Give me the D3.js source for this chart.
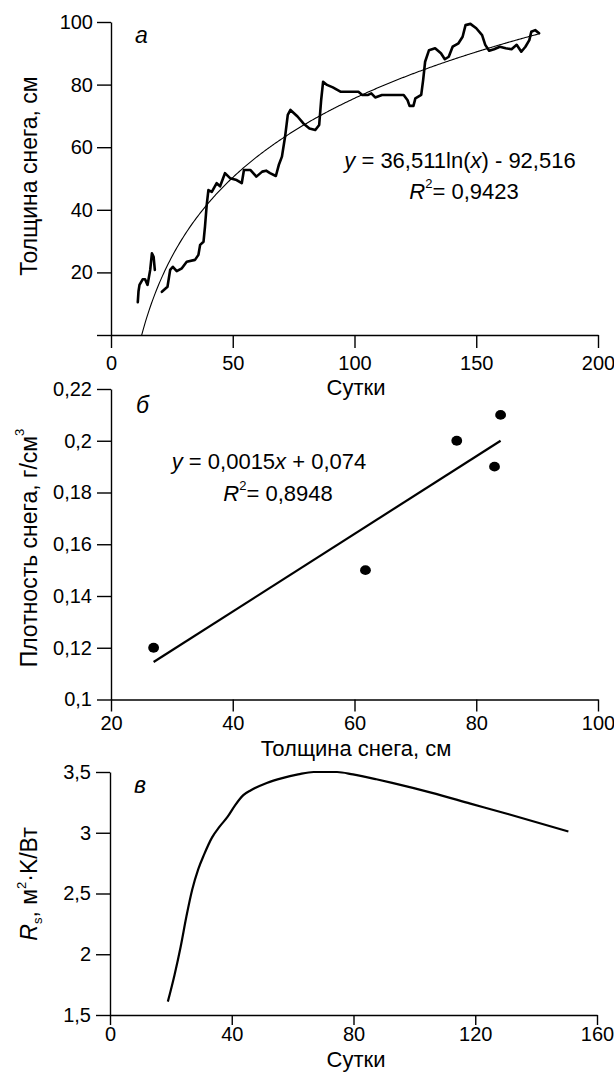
<!DOCTYPE html>
<html><head><meta charset="utf-8">
<script src="https://cdn.jsdelivr.net/npm/d3@7"></script>
<style>
body{margin:0;background:#fff}
svg{display:block}
text{font-family:"Liberation Sans",Arial,sans-serif;fill:#000}
</style>
</head><body>
<svg id="chart" width="614" height="1073"></svg>
<script>
// ---------- Panel а: snow depth vs days ----------
const seg1Days  = [11.0, 11.3, 11.7, 13.0, 14.0, 15.0, 16.1, 16.8, 17.5, 18.0];
const seg1Depth = [10.5, 14.0, 16.0, 17.8, 17.8, 16.0, 20.8, 26.1, 25.0, 20.8];
const seg2Days  = [20.9, 23.2, 24.3, 25.4, 27.0, 29.1, 31.1, 34.5, 35.9, 36.6, 38.0, 38.6, 39.3, 40.0, 41.4, 43.4, 44.8, 46.8, 48.9, 51.6, 53.7, 54.6, 57.3, 59.7, 62.1, 63.7, 65.3, 67.7, 68.9, 70.2, 71.5, 72.6, 73.7, 76.6, 79.0, 81.5, 83.9, 85.5, 86.3, 87.1, 88.7, 91.1, 94.4, 99.2, 101.6, 103.2, 105.6, 106.9, 108.5, 111.3, 120.2, 121.8, 122.6, 124.2, 125.0, 127.4, 128.2, 129.0, 130.6, 133.1, 135.5, 137.1, 138.7, 140.3, 142.7, 144.4, 145.6, 147.6, 150.0, 152.4, 153.7, 155.3, 157.3, 159.7, 162.1, 164.5, 166.6, 168.5, 170.2, 171.8, 172.6, 174.2, 175.8];
const seg2Depth = [13.8, 15.4, 20.8, 21.8, 20.4, 21.3, 23.4, 24.0, 25.6, 28.8, 29.8, 34.6, 41.5, 46.3, 45.7, 48.5, 47.5, 51.7, 50.1, 49.5, 48.5, 52.7, 52.7, 50.6, 52.2, 52.5, 51.7, 50.8, 54.3, 57.0, 63.4, 70.3, 71.9, 69.8, 67.6, 66.0, 65.5, 67.1, 75.0, 80.9, 79.9, 79.1, 77.7, 77.7, 77.7, 76.7, 76.7, 77.2, 75.9, 76.7, 76.7, 75.0, 73.2, 73.2, 75.6, 76.7, 81.5, 87.3, 91.0, 91.6, 90.0, 88.1, 88.9, 92.1, 93.2, 95.3, 99.0, 99.4, 98.0, 95.8, 92.7, 90.8, 91.3, 92.1, 91.6, 91.3, 92.7, 90.5, 92.1, 94.2, 96.9, 97.4, 96.4];
const fitA = [36.511, -92.516];        // y = a ln(x) + b
const fitARange = [12.6, 176];
const ticksAx = [0, 50, 100, 150, 200];
const ticksAy = [0, 20, 40, 60, 80, 100];
const labelsAx = ["0", "50", "100", "150", "200"];
const labelsAy = ["", "20", "40", "60", "80", "100"];

// ---------- Panel б: density vs depth ----------
const depthB   = [27, 61.8, 76.8, 83.0, 84.0];
const densityB = [0.12, 0.15, 0.20, 0.19, 0.21];
const fitB = [0.0015, 0.074];          // y = a x + b
const fitBRange = [27, 84];
const ticksBx = [20, 40, 60, 80, 100];
const ticksBy = [0.1, 0.12, 0.14, 0.16, 0.18, 0.2, 0.22];
const labelsBx = ["20", "40", "60", "80", "100"];
const labelsBy = ["0,1", "0,12", "0,14", "0,16", "0,18", "0,2", "0,22"];

// ---------- Panel в: thermal resistance vs days ----------
const daysC = [19.0, 21.2, 23.2, 25.1, 27.0, 29.0, 30.9, 33.5, 36.0, 38.6, 41.2, 43.8, 46.3, 51.5, 56.6, 61.8, 66.9, 74.6, 79.8, 87.5, 92.7, 105.5, 118.4, 131.3, 150.6];
const rsC   = [1.61, 1.83, 2.06, 2.31, 2.53, 2.70, 2.82, 2.96, 3.05, 3.13, 3.23, 3.31, 3.35, 3.41, 3.45, 3.48, 3.50, 3.50, 3.48, 3.44, 3.41, 3.33, 3.24, 3.15, 3.01];
const ticksCx = [0, 40, 80, 120, 160];
const ticksCy = [1.5, 2, 2.5, 3, 3.5];
const labelsCx = ["0", "40", "80", "120", "160"];
const labelsCy = ["1,5", "2", "2,5", "3", "3,5"];

const svg = d3.select("#chart");
const TICK_FS = 20, TITLE_FS = 23, XTITLE_FS = 22, EQ_FS = 22, SUP_FS = 13;

function drawAxes(x, y, tx, ty, lx, ly, opt) {
  const g = svg.append("g");
  const xa = d3.axisBottom(x).tickValues(tx).tickFormat((d, i) => lx[i])
    .tickSize(opt.xTick).tickSizeOuter(0).tickPadding(opt.xPad);
  const ya = d3.axisLeft(y).tickValues(ty).tickFormat((d, i) => ly[i])
    .tickSize(opt.yTick).tickSizeOuter(0).tickPadding(opt.yPad);
  const gx = g.append("g").attr("transform", `translate(0,${y.range()[0]})`).call(xa);
  const gy = g.append("g").attr("transform", `translate(${x.range()[0]},0)`).call(ya);
  [gx, gy].forEach(a => {
    a.selectAll("path,line").attr("stroke", "#000").attr("stroke-width", 1.4);
    a.selectAll("text").attr("font-size", TICK_FS).attr("font-family", '"Liberation Sans",Arial,sans-serif').attr("fill", "#000");
  });
  return g;
}

function r2Text(x, y, value) {
  const t = svg.append("text").attr("x", x).attr("y", y).attr("font-size", EQ_FS).attr("text-anchor", "middle");
  t.append("tspan").attr("font-style", "italic").text("R");
  t.append("tspan").attr("font-size", SUP_FS).attr("dy", -11).text("2");
  t.append("tspan").attr("dy", 11).text("= " + value);
}

// ===== Panel а =====
const xA = d3.scaleLinear().domain([0, 200]).range([111, 598]);
const yA = d3.scaleLinear().domain([0, 100]).range([335, 22]);
drawAxes(xA, yA, ticksAx, ticksAy, labelsAx, labelsAy, {xTick: 13, xPad: 8, yTick: 14, yPad: 4});
const lineA = d3.line().x(d => xA(d[0])).y(d => yA(d[1]));
[[seg1Days, seg1Depth], [seg2Days, seg2Depth]].forEach(([dx, dy]) => {
  svg.append("path").datum(dx.map((v, i) => [v, dy[i]]))
    .attr("d", lineA).attr("fill", "none").attr("stroke", "#000")
    .attr("stroke-width", 2.6).attr("stroke-linejoin", "round").attr("stroke-linecap", "round");
});
const fitAPts = d3.range(fitARange[0], fitARange[1] + 0.01, 0.5).map(v => [v, fitA[0] * Math.log(v) + fitA[1]]);
svg.append("path").datum(fitAPts).attr("d", lineA).attr("fill", "none")
  .attr("stroke", "#000").attr("stroke-width", 1.1);

svg.append("text").attr("x", 135).attr("y", 43).attr("font-size", 23).attr("font-style", "italic").text("а");
const eqA = svg.append("text").attr("x", 460).attr("y", 168).attr("font-size", EQ_FS).attr("text-anchor", "middle");
eqA.append("tspan").attr("font-style", "italic").text("y");
eqA.append("tspan").text(" = 36,511ln(");
eqA.append("tspan").attr("font-style", "italic").text("x");
eqA.append("tspan").text(") - 92,516");
r2Text(464, 199, "0,9423");
svg.append("text").attr("transform", "translate(37,176) rotate(-90)").attr("text-anchor", "middle")
  .attr("font-size", TITLE_FS).text("Толщина снега, см");
svg.append("text").attr("x", 356).attr("y", 395).attr("text-anchor", "middle").attr("font-size", XTITLE_FS).text("Сутки");

// ===== Panel б =====
const xB = d3.scaleLinear().domain([20, 100]).range([111, 598]);
const yB = d3.scaleLinear().domain([0.1, 0.22]).range([699.5, 389]);
drawAxes(xB, yB, ticksBx, ticksBy, labelsBx, labelsBy, {xTick: 12, xPad: 4, yTick: 14, yPad: 5});
const lineB = d3.line().x(d => xB(d[0])).y(d => yB(d[1]));
svg.append("path").datum(fitBRange.map(v => [v, fitB[0] * v + fitB[1]]))
  .attr("d", lineB).attr("stroke", "#000").attr("stroke-width", 2.2).attr("fill", "none");
svg.append("g").selectAll("ellipse").data(depthB.map((v, i) => [v, densityB[i]])).join("ellipse")
  .attr("cx", d => xB(d[0])).attr("cy", d => yB(d[1])).attr("rx", 5.4).attr("ry", 4.9).attr("fill", "#000");
svg.append("text").attr("x", 136).attr("y", 413).attr("font-size", 23).attr("font-style", "italic").text("б");
const eqB = svg.append("text").attr("x", 269).attr("y", 469).attr("font-size", EQ_FS).attr("text-anchor", "middle");
eqB.append("tspan").attr("font-style", "italic").text("y");
eqB.append("tspan").text(" = 0,0015");
eqB.append("tspan").attr("font-style", "italic").text("x");
eqB.append("tspan").text(" + 0,074");
r2Text(278, 501, "0,8948");
const ytB = svg.append("text").attr("transform", "translate(37,548) rotate(-90)").attr("text-anchor", "middle")
  .attr("font-size", TITLE_FS);
ytB.append("tspan").text("Плотность снега, г/см");
ytB.append("tspan").attr("font-size", SUP_FS).attr("dy", -13).text("3");
svg.append("text").attr("x", 356).attr("y", 756).attr("text-anchor", "middle").attr("font-size", XTITLE_FS).text("Толщина снега, см");

// ===== Panel в =====
const xC = d3.scaleLinear().domain([0, 160]).range([110, 597]);
const yC = d3.scaleLinear().domain([1.5, 3.5]).range([1015, 772]);
drawAxes(xC, yC, ticksCx, ticksCy, labelsCx, labelsCy, {xTick: 10, xPad: 2, yTick: 14, yPad: 5});
const lineC = d3.line().x(d => xC(d[0])).y(d => yC(d[1])).curve(d3.curveMonotoneX);
svg.append("path").datum(daysC.map((v, i) => [v, rsC[i]])).attr("d", lineC)
  .attr("fill", "none").attr("stroke", "#000").attr("stroke-width", 2.2);
svg.append("text").attr("x", 134).attr("y", 793).attr("font-size", 23).attr("font-style", "italic").text("в");
const ytC = svg.append("text").attr("transform", "translate(37,884) rotate(-90)").attr("text-anchor", "middle")
  .attr("font-size", TITLE_FS);
ytC.append("tspan").attr("font-style", "italic").text("R");
ytC.append("tspan").attr("font-size", SUP_FS).attr("dy", 5).text("s");
ytC.append("tspan").attr("dy", -5).text(", м");
ytC.append("tspan").attr("font-size", SUP_FS).attr("dy", -11).text("2");
ytC.append("tspan").attr("dy", 11).text("·K/Вт");
svg.append("text").attr("x", 356).attr("y", 1067).attr("text-anchor", "middle").attr("font-size", XTITLE_FS).text("Сутки");
</script>
</body></html>
